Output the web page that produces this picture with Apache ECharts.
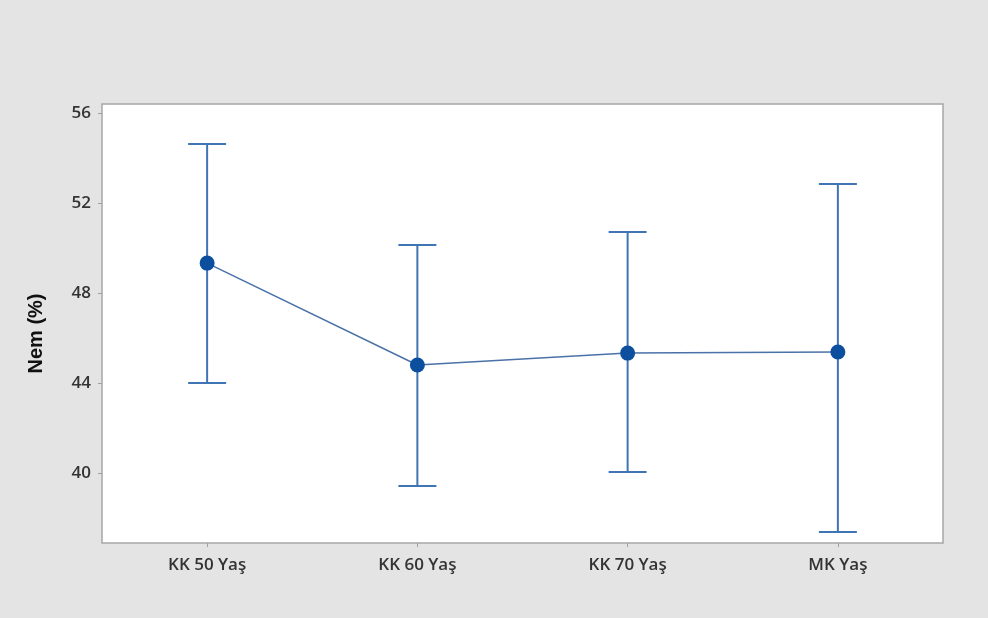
<!DOCTYPE html>
<html>
<head>
<meta charset="utf-8">
<script src="https://cdn.jsdelivr.net/npm/echarts@6/dist/echarts.min.js"></script>
<style>
html,body{margin:0;padding:0;background:#e4e4e4;}
#chart{width:988px;height:618px;}
</style>
</head>
<body>
<div id="chart"></div>
<script>
const categories = ['KK 50 Yaş', 'KK 60 Yaş', 'KK 70 Yaş', 'MK Yaş'];
const means = [49.33, 44.80, 45.33, 45.38];
const upper = [54.62, 50.13, 50.71, 52.84];
const lower = [44.00, 39.42, 40.04, 37.38];
const yTicks = [40, 44, 48, 52, 56];
const yName = 'Nem (%)';

const chart = echarts.init(document.getElementById('chart'));
const errData = categories.map((c, i) => [i, lower[i], upper[i]]);

chart.setOption({
  backgroundColor: '#e4e4e4',
  animation: false,
  grid: {
    left: 102, right: 45, top: 104, bottom: 75,
    show: true, backgroundColor: '#ffffff', borderColor: '#a6a6a6', borderWidth: 1.5
  },
  xAxis: {
    type: 'category',
    data: categories,
    boundaryGap: true,
    axisLine: { show: false },
    axisTick: { show: true, alignWithLabel: true, length: 4, lineStyle: { color: '#a0a0a0' } },
    axisLabel: { margin: 14, color: '#333', fontFamily: 'Open Sans', fontWeight: 600, fontSize: 17 },
    splitLine: { show: false }
  },
  yAxis: {
    type: 'value',
    min: 36.89, max: 56.4,
    name: yName,
    nameLocation: 'middle',
    nameGap: 56,
    nameRotate: 90,
    nameTextStyle: { fontFamily: 'Liberation Sans', fontWeight: 'bold', fontSize: 20, color: '#111', padding: [0, 20, 0, 0] },
    axisLine: { show: false },
    axisTick: { show: true, length: 4, customValues: yTicks, lineStyle: { color: '#a0a0a0' } },
    axisLabel: { margin: 11, customValues: yTicks, color: '#333', fontFamily: 'Open Sans', fontWeight: 600, fontSize: 17 },
    splitLine: { show: false }
  },
  series: [
    {
      type: 'custom',
      data: errData,
      z: 2,
      renderItem: function (params, api) {
        const i = api.value(0);
        const lo = api.coord([i, api.value(1)]);
        const hi = api.coord([i, api.value(2)]);
        const hw = 19;
        const style = { stroke: '#3f74b5', lineWidth: 2 };
        return {
          type: 'group',
          children: [
            { type: 'line', shape: { x1: lo[0], y1: lo[1], x2: hi[0], y2: hi[1] }, style: style },
            { type: 'line', shape: { x1: hi[0] - hw, y1: hi[1], x2: hi[0] + hw, y2: hi[1] }, style: style },
            { type: 'line', shape: { x1: lo[0] - hw, y1: lo[1], x2: lo[0] + hw, y2: lo[1] }, style: style }
          ]
        };
      }
    },
    {
      type: 'line',
      data: means,
      z: 3,
      symbol: 'circle',
      symbolSize: 15,
      lineStyle: { color: '#4a72a8', width: 1.5 },
      itemStyle: { color: '#0b4f9e' }
    }
  ]
});
</script>
</body>
</html>
